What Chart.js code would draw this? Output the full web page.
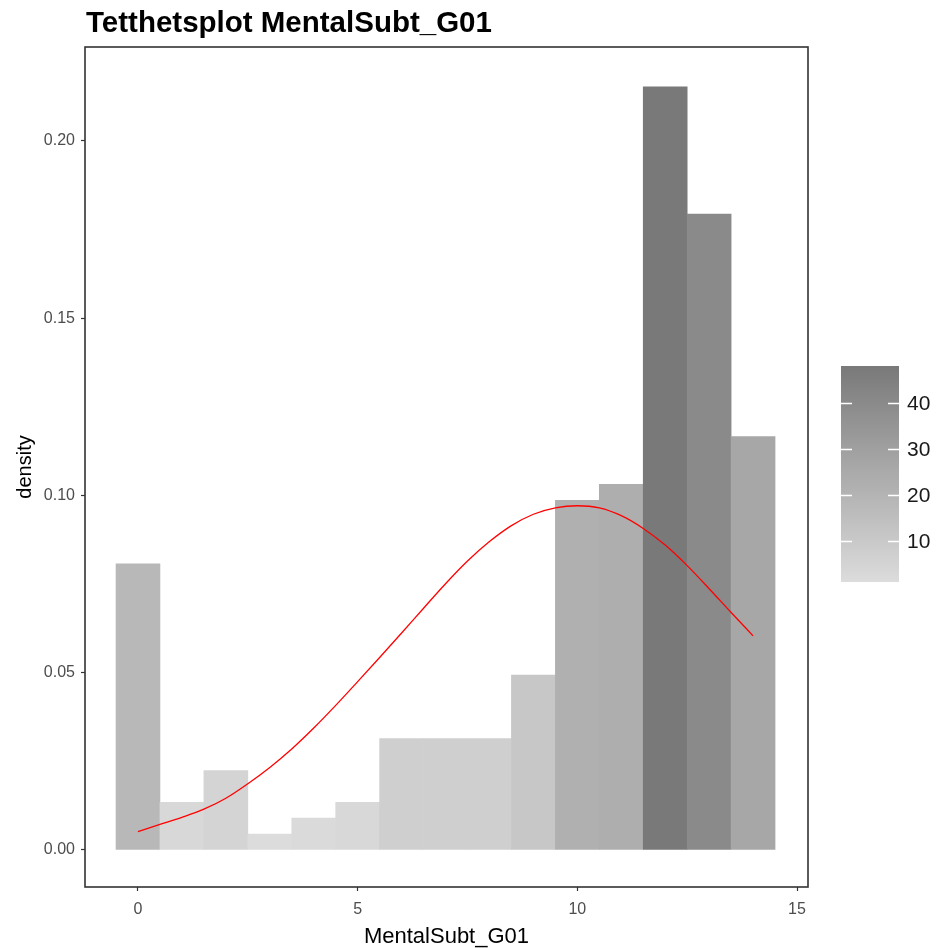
<!DOCTYPE html>
<html>
<head>
<meta charset="utf-8">
<script src="https://cdn.jsdelivr.net/npm/chart.js@4.4.1/dist/chart.umd.min.js"></script>
<style>
  html, body { margin: 0; padding: 0; background: #ffffff; }
  #wrap { width: 939px; height: 948px; position: relative; }
</style>
</head>
<body>
<div id="wrap"><canvas id="c" width="939" height="948"></canvas></div>
<script>
// Histogram of MentalSubt_G01 (bin width 1, centred on whole numbers)
const binCenters = [0, 1, 2, 3, 4, 5, 6, 7, 8, 9, 10, 11, 12, 13, 14];
const binCounts  = [18, 3, 5, 1, 2, 3, 7, 7, 7, 11, 22, 23, 48, 40, 26];

// Fitted density curve
const curveX = [0, 0.5, 1, 1.5, 2, 2.5, 3, 3.5, 4, 4.5, 5, 5.5, 6, 6.5, 7,
                7.5, 8, 8.5, 9, 9.5, 10, 10.5, 11, 11.5, 12, 12.5, 13, 13.5, 14];
const curveY = [0.0052, 0.0072, 0.0092, 0.0115, 0.0146, 0.0187, 0.0233, 0.0285,
                0.0344, 0.0408, 0.0475, 0.0543, 0.0612, 0.0682, 0.0751, 0.0815,
                0.0870, 0.0915, 0.0947, 0.0965, 0.0971, 0.0965, 0.0943, 0.0907,
                0.0860, 0.0802, 0.0737, 0.0670, 0.0604];

const xTicks = [0, 5, 10, 15];
const yTicks = [0, 0.05, 0.10, 0.15, 0.20];
const legendTicks = [10, 20, 30, 40];

const titleText = 'Tetthetsplot MentalSubt_G01';
const xTitle = 'MentalSubt_G01';
const yTitle = 'density';

const FONT = "'Liberation Sans', Arial, sans-serif";

const total = binCounts.reduce((a, b) => a + b, 0);
const binDensity = binCounts.map(c => c / total);

const countMin = Math.min(...binCounts);
const countMax = Math.max(...binCounts);
const lowGrey = 220, highGrey = 121;
function fillFor(count) {
  const t = (count - countMin) / (countMax - countMin);
  const g = Math.round(lowGrey + (highGrey - lowGrey) * t);
  return `rgb(${g},${g},${g})`;
}

// Title, panel border and colour bar legend
const decorations = {
  id: 'decorations',
  afterDraw(chart) {
    const ctx = chart.ctx;
    const a = chart.chartArea;
    ctx.save();
    // panel border
    ctx.strokeStyle = '#333333';
    ctx.lineWidth = 1.6;
    ctx.strokeRect(a.left, a.top, a.right - a.left, a.bottom - a.top);

    // title
    ctx.fillStyle = '#000000';
    ctx.font = `bold 29.5px ${FONT}`;
    ctx.textAlign = 'left';
    ctx.textBaseline = 'alphabetic';
    ctx.fillText(titleText, 86, 32);

    // colour bar
    const bx = 841, bw = 58, byTop = 366, byBot = 582;
    const yOf = v => byBot - (v - countMin) / (countMax - countMin) * (byBot - byTop);
    const grad = ctx.createLinearGradient(0, byBot, 0, byTop);
    for (let i = 0; i <= 20; i++) {
      const v = countMin + (countMax - countMin) * i / 20;
      grad.addColorStop(i / 20, fillFor(v));
    }
    ctx.fillStyle = grad;
    ctx.fillRect(bx, byTop, bw, byBot - byTop);

    ctx.strokeStyle = '#ffffff';
    ctx.lineWidth = 1.4;
    ctx.font = `21px ${FONT}`;
    ctx.fillStyle = '#1a1a1a';
    ctx.textBaseline = 'middle';
    legendTicks.forEach(v => {
      const y = Math.round(yOf(v)) + 0.5;
      ctx.beginPath();
      ctx.moveTo(bx, y); ctx.lineTo(bx + 11, y);
      ctx.moveTo(bx + bw - 11, y); ctx.lineTo(bx + bw, y);
      ctx.stroke();
      ctx.fillText(String(v), 907, y + 1);
    });
    ctx.restore();
  }
};

new Chart(document.getElementById('c'), {
  type: 'bar',
  data: {
    datasets: [
      {
        type: 'line',
        data: curveX.map((x, i) => ({ x, y: curveY[i] })),
        borderColor: '#ff0000',
        borderWidth: 1.3,
        pointRadius: 0,
        cubicInterpolationMode: 'monotone',
        fill: false,
        order: 0
      },
      {
        type: 'bar',
        data: binCenters.map((x, i) => ({ x, y: binDensity[i] })),
        backgroundColor: binCounts.map(fillFor),
        borderWidth: 0,
        barPercentage: 1,
        categoryPercentage: 1,
        order: 1
      }
    ]
  },
  plugins: [decorations],
  options: {
    responsive: false,
    animation: false,
    events: [],
    layout: { padding: { top: 47, right: 131, bottom: 0, left: 0 } },
    plugins: { legend: { display: false }, tooltip: { enabled: false } },
    scales: {
      x: {
        type: 'linear',
        min: -1.206,
        max: 15.25,
        offset: false,
        afterFit(s) { s.height = 61; },
        afterBuildTicks(s) { s.ticks = xTicks.map(v => ({ value: v })); },
        grid: { display: true, offset: false, drawOnChartArea: false, drawTicks: true, tickLength: 4, tickColor: '#333333', tickWidth: 1.2 },
        border: { display: false },
        ticks: { color: '#4d4d4d', font: { family: FONT, size: 16 }, padding: 9, maxRotation: 0, autoSkip: false },
        title: { display: true, text: xTitle, color: '#000000', font: { family: FONT, size: 22, lineHeight: 1.0 }, padding: { top: 0, bottom: 0 } }
      },
      y: {
        type: 'linear',
        min: -0.01044,
        max: 0.2265,
        afterFit(s) { s.width = 85; },
        afterBuildTicks(s) { s.ticks = yTicks.map(v => ({ value: v })); },
        grid: { display: true, drawOnChartArea: false, drawTicks: true, tickLength: 4, tickColor: '#333333', tickWidth: 1.2 },
        border: { display: false },
        ticks: { color: '#4d4d4d', font: { family: FONT, size: 16 }, padding: 6, callback: v => v.toFixed(2) },
        title: { display: true, text: yTitle, color: '#000000', font: { family: FONT, size: 20 }, padding: { top: 13, bottom: 0 } }
      }
    }
  }
});
</script>
</body>
</html>
